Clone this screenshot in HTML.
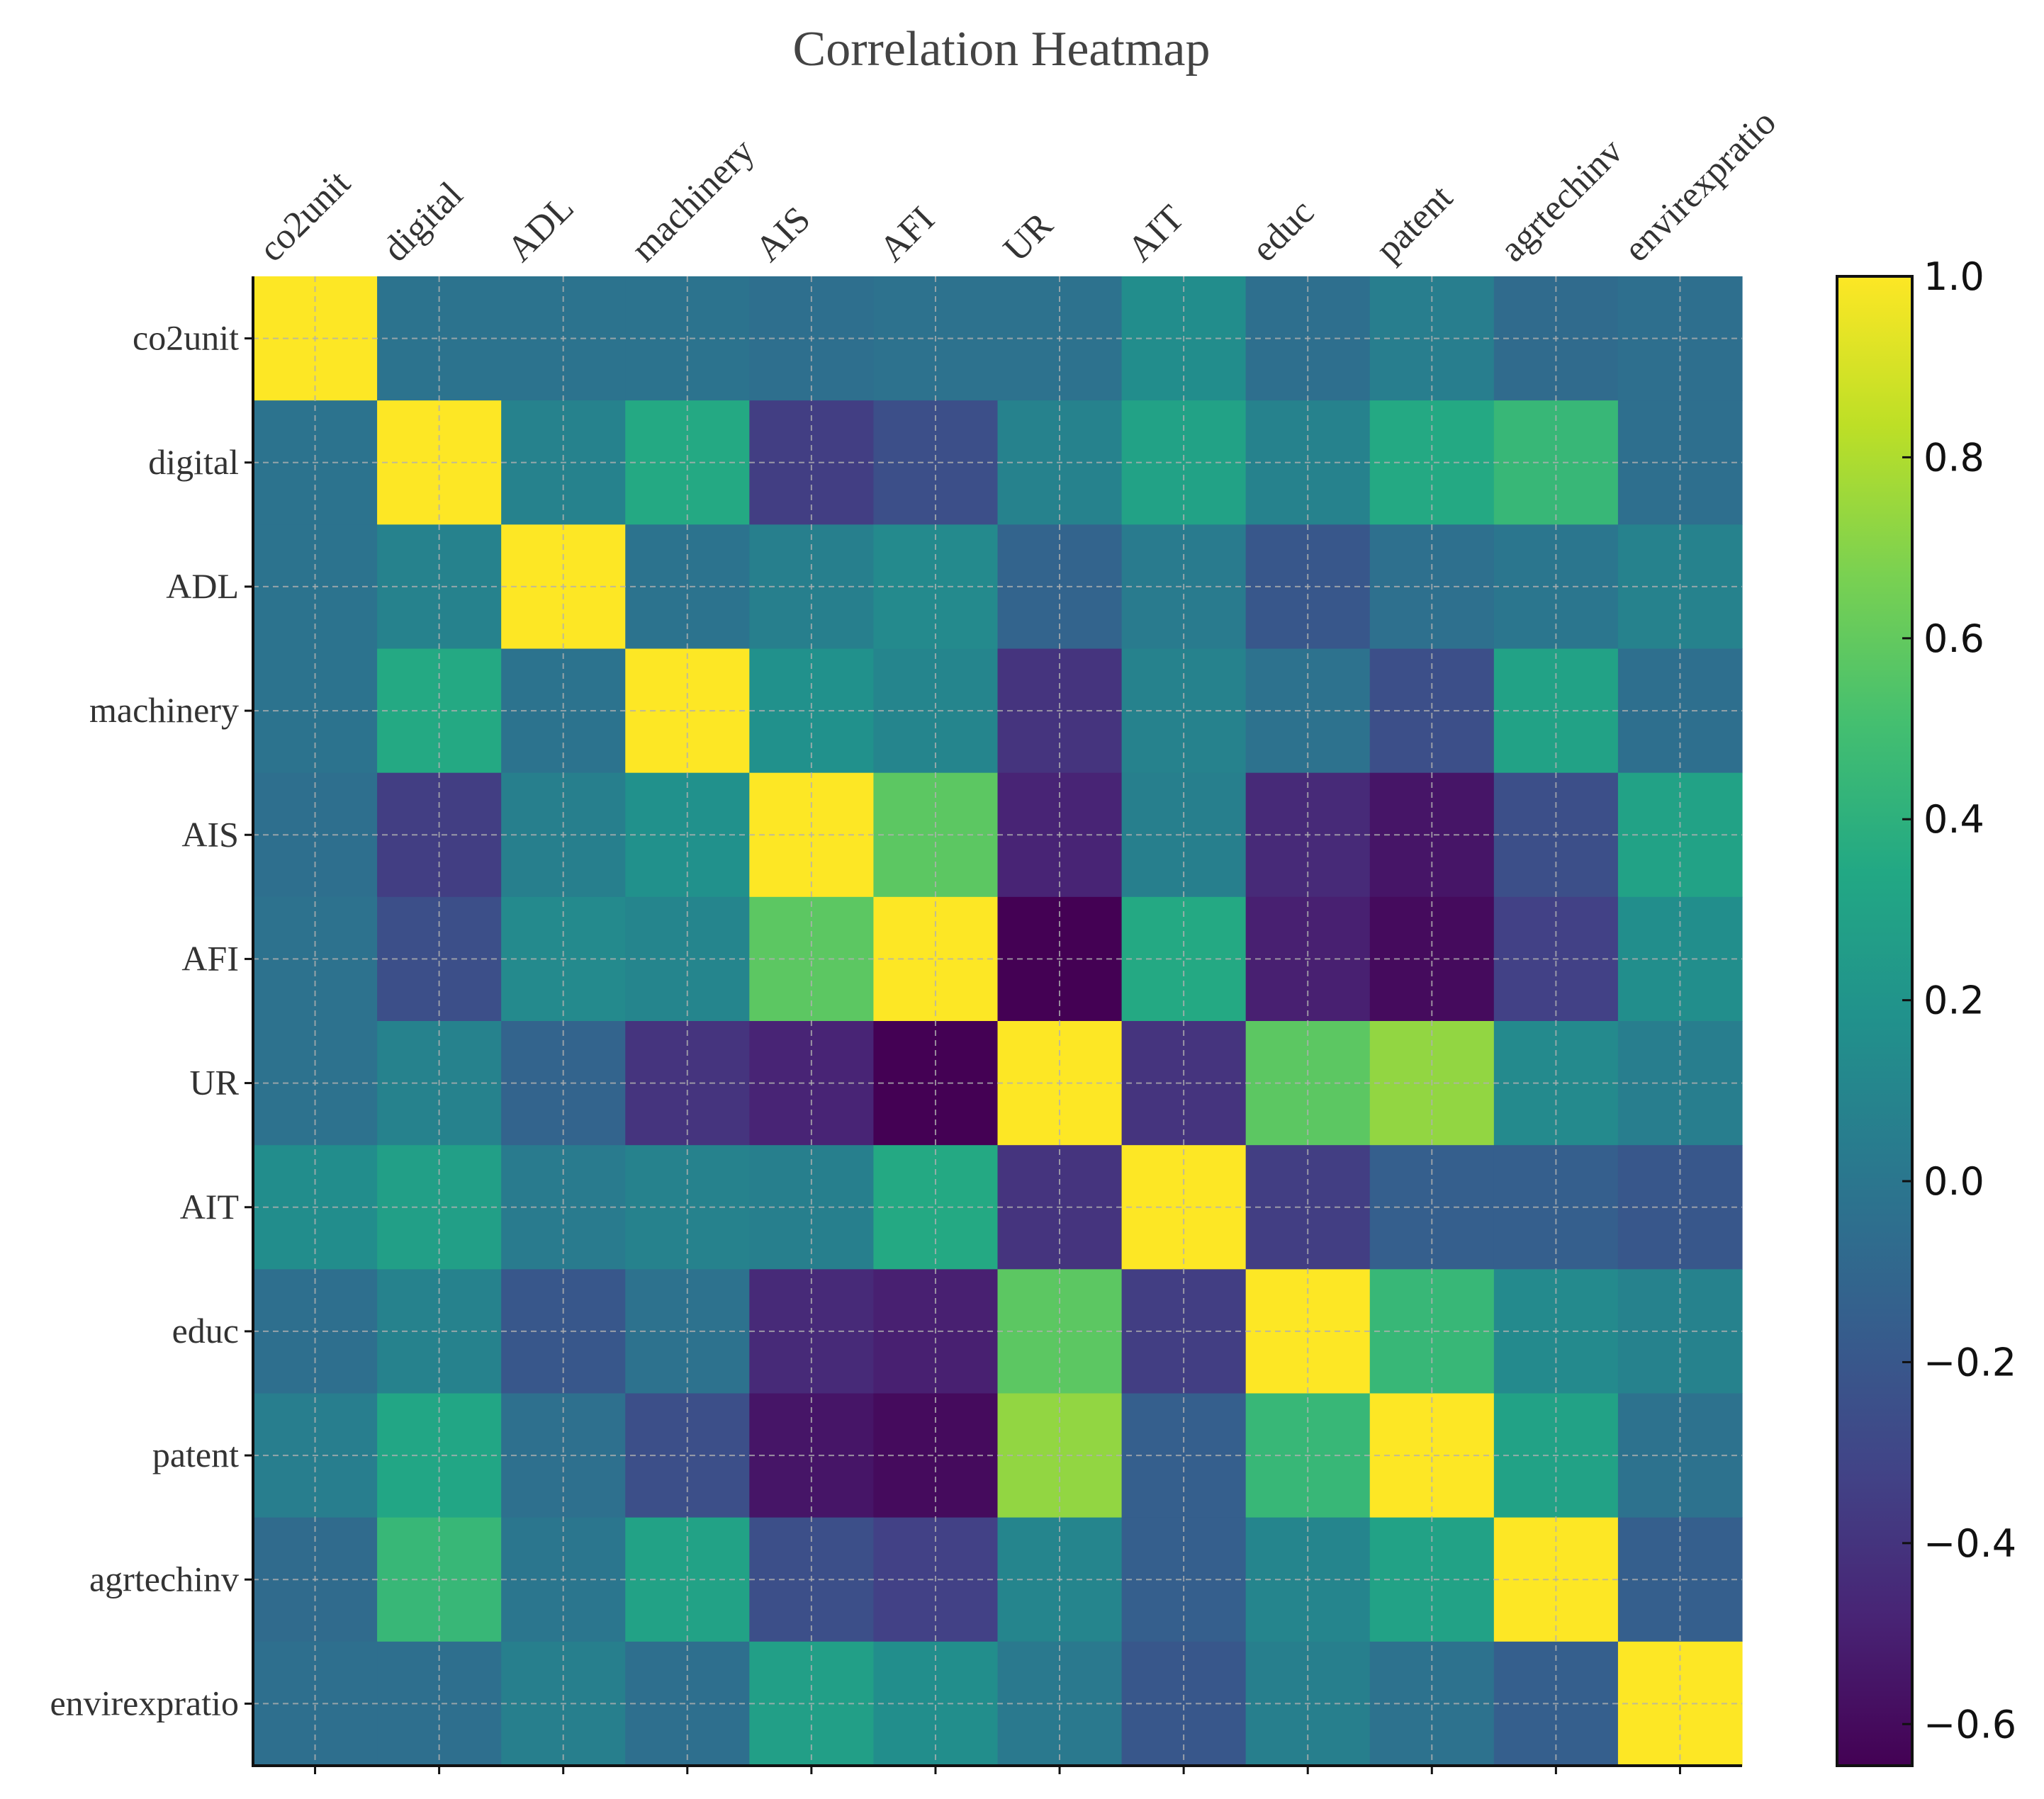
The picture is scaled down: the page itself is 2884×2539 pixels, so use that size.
<!DOCTYPE html>
<html><head><meta charset="utf-8"><style>
html,body{margin:0;padding:0;background:#fff;}
svg{display:block;}
</style></head><body>
<svg id="chart" width="2884" height="2539" viewBox="0 0 2884 2539" xmlns="http://www.w3.org/2000/svg">
<defs><linearGradient id="vgrad" x1="0" y1="1" x2="0" y2="0"></linearGradient></defs>
<text x="1413" y="92" text-anchor="middle" font-family="Liberation Serif, serif" font-size="70" fill="#444">Correlation Heatmap</text>
<g id="cells"></g>
<g id="grid"></g>
<g id="axes"></g>
<g id="cbar"></g>
</svg>
<script>
const labels = ["co2unit","digital","ADL","machinery","AIS","AFI","UR","AIT","educ","patent","agrtechinv","envirexpratio"];
const matrix = [
[1,-0.02,-0.02,-0.02,-0.05,-0.03,-0.03,0.15,-0.05,0.05,-0.07,-0.05],
[-0.02,1,0.08,0.35,-0.35,-0.25,0.08,0.3,0.08,0.35,0.45,-0.05],
[-0.02,0.08,1,-0.02,0.06,0.13,-0.12,0.03,-0.2,-0.04,0.0,0.08],
[-0.02,0.35,-0.02,1,0.18,0.1,-0.4,0.08,-0.03,-0.25,0.3,-0.05],
[-0.05,-0.35,0.06,0.18,1,0.58,-0.48,0.06,-0.45,-0.55,-0.25,0.3],
[-0.03,-0.25,0.13,0.1,0.58,1,-0.646,0.35,-0.5,-0.6,-0.33,0.16],
[-0.03,0.08,-0.12,-0.4,-0.48,-0.646,1,-0.4,0.58,0.73,0.13,0.05],
[0.15,0.28,0.03,0.08,0.06,0.35,-0.4,1,-0.35,-0.15,-0.15,-0.2],
[-0.05,0.08,-0.2,-0.03,-0.45,-0.5,0.58,-0.35,1,0.45,0.13,0.08],
[0.05,0.33,-0.04,-0.25,-0.55,-0.6,0.73,-0.15,0.45,1,0.3,-0.03],
[-0.07,0.45,0.0,0.3,-0.25,-0.33,0.1,-0.15,0.1,0.3,1,-0.15],
[-0.05,-0.05,0.06,-0.05,0.28,0.16,0.02,-0.2,0.06,-0.03,-0.15,1]
];
const cbarTicks = [1.0,0.8,0.6,0.4,0.2,0.0,-0.2,-0.4,-0.6];
const vmin = -0.646, vmax = 1.0;

const NS = "http://www.w3.org/2000/svg";
const X0 = 357, X1 = 2458, Y0 = 390, Y1 = 2492;
const n = labels.length, cw = (X1 - X0) / n, ch = (Y1 - Y0) / n;
const stops = ["#440154","#482475","#414487","#355f8d","#2a788e","#21918c","#22a884","#44bf70","#7ad151","#bddf26","#fde725"];
function hex(h){return [parseInt(h.slice(1,3),16),parseInt(h.slice(3,5),16),parseInt(h.slice(5,7),16)];}
function viridis(t){t=Math.max(0,Math.min(1,t));const p=t*10,i=Math.min(9,Math.floor(p)),f=p-i;const a=hex(stops[i]),b=hex(stops[i+1]);
return "rgb("+a.map((v,k)=>Math.round(v+(b[k]-v)*f)).join(",")+")";}
function norm(v){return (v - vmin) / (vmax - vmin);}
function xPos(j){return X0 + j * cw;}
function yPos(i){return Y0 + i * ch;}
function mk(tag, attrs, parent){const e=document.createElementNS(NS,tag);for(const k in attrs)e.setAttribute(k,attrs[k]);parent.appendChild(e);return e;}

const cells = document.getElementById("cells");
matrix.forEach((row,i)=>row.forEach((v,j)=>{
  const r = mk("rect",{x:xPos(j),y:yPos(i),width:cw+0.6,height:ch+0.6,fill:viridis(norm(v))},cells);
  
  
}));

const grid = document.getElementById("grid");
for(let k=0;k<n;k++){
  const cx = xPos(k)+cw/2, cy = yPos(k)+ch/2;
  mk("line",{x1:cx,y1:Y0,x2:cx,y2:Y1,stroke:"#b0b0b0","stroke-width":2,"stroke-dasharray":"8,6","stroke-opacity":0.8},grid);
  mk("line",{x1:X0,y1:cy,x2:X1,y2:cy,stroke:"#b0b0b0","stroke-width":2,"stroke-dasharray":"8,6","stroke-opacity":0.8},grid);
}

const axes = document.getElementById("axes");
mk("line",{x1:X0,y1:Y0,x2:X0,y2:Y1+2,stroke:"#111","stroke-width":4},axes);
mk("line",{x1:X0-2,y1:Y1,x2:X1,y2:Y1,stroke:"#111","stroke-width":4},axes);
labels.forEach((lab,k)=>{
  const cx = xPos(k)+cw/2, cy = yPos(k)+ch/2;
  mk("line",{x1:cx,y1:Y1,x2:cx,y2:Y1+12,stroke:"#111","stroke-width":3},axes);
  mk("line",{x1:X0-12,y1:cy,x2:X0,y2:cy,stroke:"#111","stroke-width":3},axes);
  const yl = mk("text",{x:X0-20,y:cy+16,"text-anchor":"end","font-family":"Liberation Serif, serif","font-size":50,fill:"#333"},axes);
  yl.textContent = lab;
  
  
  const tx = cx - 58, ty = 372;
  const xl = mk("text",{x:tx,y:ty,"text-anchor":"start","font-family":"Liberation Serif, serif","font-size":52,fill:"#333",transform:"rotate(-45 "+tx+" "+ty+")"},axes);
  xl.textContent = lab;
  
  
});

const cb = document.getElementById("cbar");
const CBX0 = 2592, CBX1 = 2698;
function cbY(v){return Y0 + (vmax - v) / (vmax - vmin) * (Y1 - Y0);}
const grad = document.getElementById("vgrad");
stops.forEach((c,i)=>mk("stop",{offset:(i*10)+"%","stop-color":c},grad));
const bar = mk("rect",{x:CBX0,y:Y0,width:CBX1-CBX0,height:Y1-Y0,fill:"url(#vgrad)",stroke:"#111","stroke-width":4},cb);


cbarTicks.forEach(v=>{
  const y = cbY(v);
  mk("line",{x1:CBX1-14,y1:y,x2:CBX1,y2:y,stroke:"#111","stroke-width":3},cb);
  const t = mk("text",{x:CBX1+16,y:y+19,"font-family":"DejaVu Sans, sans-serif","font-size":54,fill:"#111"},cb);
  t.textContent = (v<0?"\u2212":"") + Math.abs(v).toFixed(1);
  
  
});
</script>
</body></html>
